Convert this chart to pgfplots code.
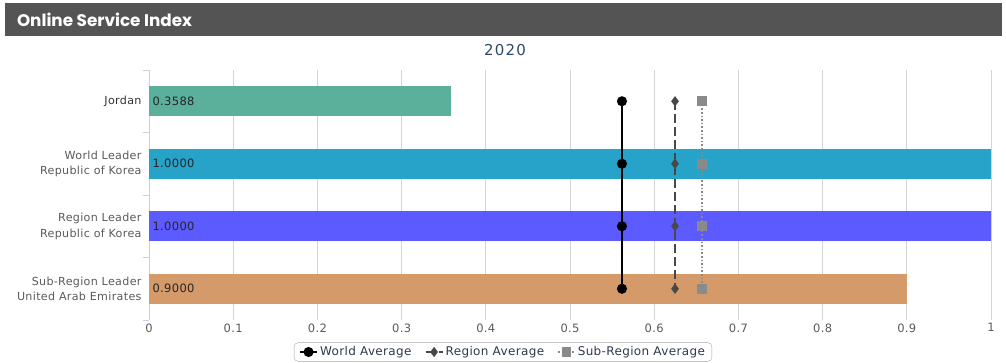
\documentclass[border=0pt]{standalone}
\usepackage{pgfplots}
\pgfplotsset{compat=1.18}
\usepackage{fontspec}
\setmainfont{DejaVu Sans}
\newfontfamily\titlefont{Poppins}
\newfontfamily\labfont[LetterSpace=3]{DejaVu Sans}
\newfontfamily\yrfont[LetterSpace=8]{DejaVu Sans}
\definecolor{titlebg}{HTML}{545454}
\definecolor{titleblue}{HTML}{2E4A66}
\definecolor{barJ}{HTML}{5BB09B}
\definecolor{barW}{HTML}{27A2C8}
\definecolor{barR}{HTML}{5B5BFF}
\definecolor{barS}{HTML}{D49A6A}
\definecolor{axisline}{HTML}{C8D2E0}
\definecolor{gridc}{HTML}{D4D4D4}
\definecolor{labc}{HTML}{5A5A5A}
\definecolor{regc}{HTML}{484848}
\definecolor{subc}{HTML}{8A8A8A}
\definecolor{legc}{HTML}{2E3A4A}
\begin{document}
\begin{tikzpicture}
\useasboundingbox (0pt,0pt) rectangle (1006pt,362pt);
\fill[white] (0pt,0pt) rectangle (1006pt,362pt);
\fill[titlebg] (5pt,326pt) rectangle (1002pt,359pt);
\node[anchor=west, text=white, font=\titlefont\bfseries\fontsize{16.8}{18}\selectfont] at (13.5pt,342pt) {Online Service Index};
\node[text=titleblue, font=\yrfont\fontsize{15}{17}\selectfont] at (505pt,312pt) {2020};
\begin{axis}[
  at={(149pt,42pt)}, anchor=south west,
  scale only axis, width=842pt, height=250pt,
  xmin=0, xmax=1, ymin=-0.5, ymax=3.5, y dir=reverse,
  axis lines*=left, axis line style={-},
  x axis line style={draw=none},
  y axis line style={draw=axisline, line width=0.8pt},
  xtick={0,0.1,0.2,0.3,0.4,0.5,0.6,0.7,0.8,0.9,1},
  xticklabels={0,0.1,0.2,0.3,0.4,0.5,0.6,0.7,0.8,0.9,1},
  xmajorgrids, grid style={gridc, line width=0.8pt},
  major tick length=0pt,
  ytick={0,1,2,3},
  yticklabels={{\color{black!80}Jordan},{World Leader\\Republic of Korea},{Region Leader\\Republic of Korea},{Sub-Region Leader\\United Arab Emirates}},
  yticklabel style={align=right, font=\labfont\fontsize{11.1}{15.5}\selectfont, text=labc, xshift=-4pt},
  minor ytick={-0.5,0.5,1.5,2.5,3.5},
  minor tick length=6pt, tick align=outside,
  minor tick style={draw=axisline, line width=0.8pt},
  xticklabel style={font=\labfont\fontsize{11.5}{13}\selectfont, text=labc},
  /pgf/number format/assume math mode=true,
  clip=false,
  legend style={at={(0.4204,-0.128)}, anchor=center, legend columns=3,
    draw=gray!70, rounded corners=4pt, font=\labfont\fontsize{12}{14}\selectfont, text=legc,
    inner ysep=2pt, inner xsep=5pt,
    /tikz/every even column/.append style={column sep=11pt}},
  legend cell align=left,
]
\addplot[xbar, bar width=30pt, bar shift=0pt, fill=barJ, draw=none, forget plot] coordinates {(0.3588,0)};
\addplot[xbar, bar width=30pt, bar shift=0pt, fill=barW, draw=none, forget plot] coordinates {(1.0,1)};
\addplot[xbar, bar width=30pt, bar shift=0pt, fill=barR, draw=none, forget plot] coordinates {(1.0,2)};
\addplot[xbar, bar width=30pt, bar shift=0pt, fill=barS, draw=none, forget plot] coordinates {(0.9,3)};
\addplot[draw=none, mark=none, forget plot, nodes near coords, point meta=explicit symbolic,
  nodes near coords style={anchor=west, font=\labfont\fontsize{11.5}{13}\selectfont, text=black!85}]
  table[meta=lab] {
x y lab
0 0 0.3588
0 1 1.0000
0 2 1.0000
0 3 0.9000
};
\addplot[black, line width=2pt, mark=*, mark size=4pt] coordinates {(0.5617,0) (0.5617,1) (0.5617,2) (0.5617,3)};
\addlegendentry{World Average}
\addplot[regc, line width=2pt, dash pattern=on 9pt off 4pt, mark=diamond*, mark size=3.5pt, mark options={solid}] coordinates {(0.6247,0) (0.6247,1) (0.6247,2) (0.6247,3)};
\addlegendentry{Region Average}
\addplot[subc, line width=1.6pt, dotted, mark=square*, mark size=4pt, mark options={solid}] coordinates {(0.6568,0) (0.6568,1) (0.6568,2) (0.6568,3)};
\addlegendentry{Sub-Region Average}
\end{axis}
\end{tikzpicture}
\end{document}
